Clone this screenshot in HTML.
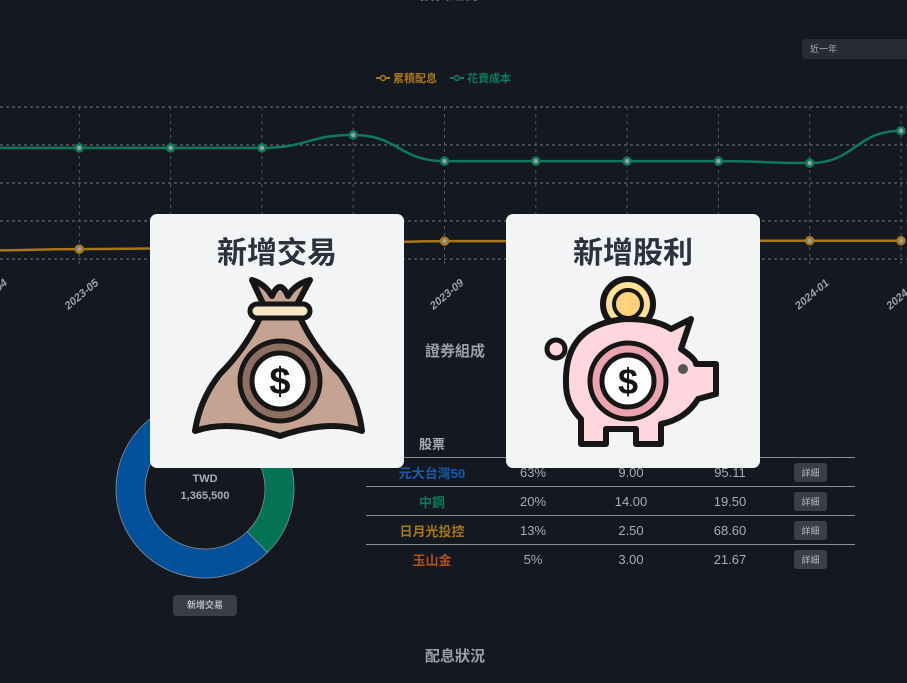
<!DOCTYPE html>
<html><head><meta charset="utf-8">
<style>
body{margin:0;width:907px;height:683px;overflow:hidden;background:#131821;font-family:"Liberation Sans","Noto Sans CJK TC",sans-serif;position:relative}
.abs{position:absolute}
.card{position:absolute;top:214px;width:254px;height:254px;background:#f3f4f6;border-radius:7px}
.card .t{position:absolute;top:14px;left:0;width:100%;text-align:center;font-size:30px;font-weight:bold;color:#2b323d}
.tbl{position:absolute;left:366px;top:429px;width:489px;border-collapse:collapse;font-size:13px;color:#a7adb7}
.tbl td,.tbl th{text-align:center;padding:0;height:28px}
.tbl tr.r td{border-top:1px solid #8a8f96}
.btn{display:inline-block;background:#3a3e47;color:#b5b9c0;font-size:9px;padding:3px 7px;border-radius:3px}
</style></head><body>
<div class="abs" style="left:420px;top:-17px;color:#a7adb7;font-size:15px;font-weight:bold">投資趨勢</div>
<div class="abs" style="left:802px;top:39px;width:110px;height:20px;background:#262b34;border-radius:4px;color:#a7adb7;font-size:9px;line-height:20px;padding-left:8px">近一年</div>
<svg class="abs" style="left:0;top:0" width="907" height="320" id="ch"></svg>

<div class="abs" style="left:425px;top:340px;color:#9aa0a8;font-size:15px;font-weight:bold">證券組成</div>
<svg class="abs" style="left:100px;top:390px" width="210" height="200" id="donut"></svg>
<div class="abs" style="left:155px;top:471px;width:100px;text-align:center;color:#a7adb7;font-size:11px;font-weight:bold;line-height:17px">TWD<br>1,365,500</div>
<div class="abs btn" style="left:173px;top:595px;width:50px;height:15px;line-height:15px;text-align:center;font-weight:bold;border-radius:4px">新增交易</div>

<table class="tbl">
<tr><th style="width:132px;font-weight:bold;color:#a7adb7">股票</th><th style="width:70px"></th><th style="width:126px"></th><th style="width:72px"></th><th></th></tr>
<tr class="r"><td style="color:#1a5bb0;font-weight:bold">元大台灣50</td><td>63%</td><td>9.00</td><td>95.11</td><td><span class="btn">詳細</span></td></tr>
<tr class="r"><td style="color:#0f7a5a;font-weight:bold">中鋼</td><td>20%</td><td>14.00</td><td>19.50</td><td><span class="btn">詳細</span></td></tr>
<tr class="r"><td style="color:#a8771c;font-weight:bold">日月光投控</td><td>13%</td><td>2.50</td><td>68.60</td><td><span class="btn">詳細</span></td></tr>
<tr class="r"><td style="color:#b0501f;font-weight:bold">玉山金</td><td>5%</td><td>3.00</td><td>21.67</td><td><span class="btn">詳細</span></td></tr>
</table>

<div class="abs" style="left:425px;top:645px;color:#9aa0a8;font-size:15px;font-weight:bold">配息狀況</div>

<div class="card" style="left:150px">
<div class="t">新增交易</div>
<svg class="abs" style="left:40px;top:60px" width="180" height="170" viewBox="0 0 180 170">
<path d="M62 6 Q75 10 82 22 Q90 4 98 22 Q105 10 120 6 L104 36 L76 36 Z" fill="#c4a393" stroke="#161616" stroke-width="6" stroke-linejoin="round"/>
<path d="M74 34 Q60 70 30 100 Q10 125 5 157 Q40 145 90 162 Q140 145 172 157 Q168 125 150 100 Q120 70 106 34 Z" fill="#c4a393" stroke="#161616" stroke-width="6" stroke-linejoin="round"/>
<rect x="60" y="30" width="60" height="14" rx="7" fill="#f6e7c6" stroke="#161616" stroke-width="5"/>
<circle cx="90" cy="107" r="40" fill="#8d6e63" stroke="#161616" stroke-width="5"/>
<circle cx="90" cy="107" r="28" fill="#fff" stroke="#161616" stroke-width="5"/>
<text x="90" y="120" text-anchor="middle" font-size="38" font-weight="bold" fill="#161616">$</text>
</svg>
</div>
<div class="card" style="left:506px">
<div class="t">新增股利</div>
<svg class="abs" style="left:30px;top:60px" width="200" height="180" viewBox="0 0 200 180">
<circle cx="92" cy="30" r="25" fill="#ffe29a" stroke="#161616" stroke-width="6"/>
<circle cx="92" cy="30" r="14" fill="#ffd27a" stroke="#161616" stroke-width="4"/>
<path d="M30 110 Q28 50 90 45 Q120 45 135 55 L155 45 L145 75 Q160 85 160 90 L180 90 L180 120 L162 125 Q150 145 125 150 L125 170 L100 170 L100 155 L70 155 L70 170 L45 170 L45 145 Q30 130 30 110 Z" fill="#ffd6dd" stroke="#161616" stroke-width="6" stroke-linejoin="round"/>
<circle cx="20" cy="75" r="9" fill="#ffd6dd" stroke="#161616" stroke-width="5"/>
<circle cx="147" cy="95" r="5" fill="#555"/>
<circle cx="92" cy="107" r="38" fill="#eaa4b0" stroke="#161616" stroke-width="5"/>
<circle cx="92" cy="107" r="26" fill="#fff" stroke="#161616" stroke-width="5"/>
<text x="92" y="120" text-anchor="middle" font-size="36" font-weight="bold" fill="#161616">$</text>
</svg>
</div>

<script>
const months=['2023-04','2023-05','2023-06','2023-07','2023-08','2023-09','2023-10','2023-11','2023-12','2024-01','2024-02'];
const costValues=[1170000,1170000,1170000,1170000,1305000,1030000,1030000,1030000,1030000,1010000,1350000];
const dividendValues=[90000,104000,112000,130000,170000,188000,188000,190000,192000,192000,192000];
const yTicks=[0,400000,800000,1200000,1600000];
const NS='http://www.w3.org/2000/svg';
const svg=document.getElementById('ch');
const x0=-12,step=91.3,yBase=259,yPer=38/400000;
const X=i=>x0+i*step, Y=v=>yBase-v*yPer;
function mk(t,a){const e=document.createElementNS(NS,t);for(const k in a)e.setAttribute(k,a[k]);svg.appendChild(e);return e;}
yTicks.forEach(v=>{const l=mk('line',{x1:0,x2:907,y1:Y(v),y2:Y(v),stroke:'#555a62','stroke-dasharray':'3,3','stroke-width':1.5});

});
months.forEach((m,i)=>{const l=mk('line',{x1:X(i),x2:X(i),y1:Y(1600000),y2:Y(0)+6,stroke:'#555a62','stroke-dasharray':'3,4'});


const tx=X(i)+20,ty=284;
const t=mk('text',{x:tx,y:ty,'text-anchor':'end',fill:'#9aa0a8','font-size':11,'font-weight':'bold','font-style':'italic',transform:`rotate(-40 ${tx} ${ty})`});
t.textContent=m;

});
function path(vals){let d='M'+X(0)+' '+Y(vals[0]);for(let i=1;i<vals.length;i++){const xa=X(i-1),xb=X(i),ya=Y(vals[i-1]),yb=Y(vals[i]);d+=` C${xa+step/2} ${ya} ${xb-step/2} ${yb} ${xb} ${yb}`;}return d;}
[[dividendValues,'#a8771c','dividend-line'],[costValues,'#0f7a5a','cost-line']].forEach(([vals,c,n])=>{
const p=mk('path',{d:path(vals),fill:'none',stroke:c,'stroke-width':2.5});


vals.forEach((v,i)=>{const pt=mk('circle',{cx:X(i),cy:Y(v),r:3.5,fill:'#9aa0a8',stroke:c,'stroke-width':2.5});

});});
[['累積配息','#a8771c',376],['花費成本','#0f7a5a',450]].forEach(([t,c,x])=>{
mk('line',{x1:x,x2:x+14,y1:78,y2:78,stroke:c,'stroke-width':2});
mk('circle',{cx:x+7,cy:78,r:2.5,fill:'#131821',stroke:c,'stroke-width':1.5});
const tx=mk('text',{x:x+17,y:82,fill:c,'font-size':11,'font-weight':'bold'});tx.textContent=t;

});
const shares=[13,5,20,63];const colors=['#a8771c','#b0501f','#037354','#04519b'];
const ds=document.getElementById('donut');const cx=105,cy=99,R=89,r=60;let a=0;
shares.forEach((s,i)=>{const a1=a,a2=a+s/101*2*Math.PI;a=a2;
const P=(rr,ang)=>[cx+rr*Math.sin(ang),cy-rr*Math.cos(ang)];const lg=(a2-a1)>Math.PI?1:0;
const [p1,p2,p3,p4]=[P(R,a1),P(R,a2),P(r,a2),P(r,a1)];
const e=document.createElementNS(NS,'path');
e.setAttribute('d',`M${p1} A${R} ${R} 0 ${lg} 1 ${p2} L${p3} A${r} ${r} 0 ${lg} 0 ${p4}Z`);
e.setAttribute('fill',colors[i]);e.setAttribute('stroke','#8a8f96');e.setAttribute('stroke-width','0.8');


ds.appendChild(e);});
</script>
</body></html>
